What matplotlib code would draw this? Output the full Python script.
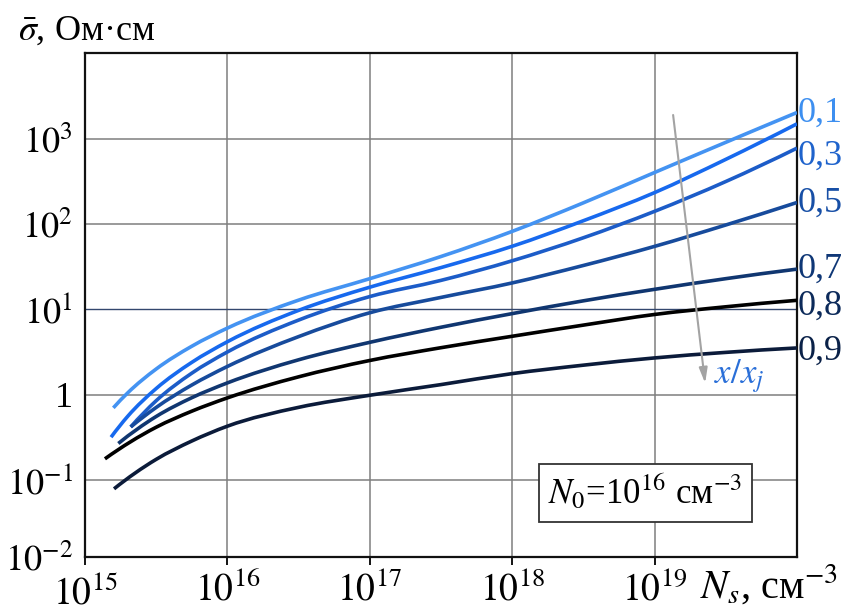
import numpy as np
import matplotlib
matplotlib.use("Agg")
import matplotlib.pyplot as plt
from matplotlib.path import Path
from matplotlib.patches import PathPatch

plt.rcParams["font.family"] = ["Liberation Serif", "DejaVu Serif"]
plt.rcParams["mathtext.fontset"] = "stix"

# Depth fractions x/xj and their curves: log10(Ns, cm^-3) vs log10(sigma, Ohm*cm)
depth_labels = ["0,1", "0,2", "0,3", "0,5", "0,7", "0,8", "0,9"]
show_label = [True, False, True, True, True, True, True]

lg_ns_01 = [15.199, 15.3, 15.5, 15.75, 16.0, 16.5, 17.0, 17.5, 18.0, 18.5, 19.0, 19.5, 20.0]
lg_sg_01 = [-0.156, 0.02, 0.30, 0.567, 0.78, 1.108, 1.36, 1.62, 1.915, 2.25, 2.606, 2.96, 3.31]

lg_ns_02 = [15.183, 15.3, 15.5, 15.75, 16.0, 16.5, 17.0, 17.5, 18.0, 18.5, 19.0, 19.5, 20.0]
lg_sg_02 = [-0.50, -0.255, 0.071, 0.378, 0.62, 0.988, 1.26, 1.49, 1.74, 2.04, 2.37, 2.76, 3.177]

lg_ns_03 = [15.321, 15.5, 15.75, 16.0, 16.5, 17.0, 17.5, 18.0, 18.5, 19.0, 19.5, 20.0]
lg_sg_03 = [-0.38, -0.072, 0.251, 0.50, 0.874, 1.15, 1.34, 1.57, 1.84, 2.15, 2.50, 2.892]

lg_ns_05 = [15.321, 15.5, 15.75, 16.0, 16.5, 17.0, 17.5, 18.0, 18.5, 19.0, 19.5, 20.0]
lg_sg_05 = [-0.38, -0.151, 0.112, 0.33, 0.68, 0.96, 1.14, 1.31, 1.515, 1.739, 1.99, 2.254]

lg_ns_07 = [15.234, 15.5, 15.75, 16.0, 16.5, 17.0, 17.5, 18.0, 18.5, 19.0, 19.5, 20.0]
lg_sg_07 = [-0.574, -0.257, -0.037, 0.137, 0.408, 0.613, 0.79, 0.95, 1.10, 1.235, 1.36, 1.472]

lg_ns_08 = [15.14, 15.5, 15.75, 16.0, 16.5, 17.0, 17.5, 18.0, 18.5, 19.0, 19.5, 20.0]
lg_sg_08 = [-0.754, -0.383, -0.195, -0.039, 0.208, 0.40, 0.55, 0.684, 0.815, 0.94, 1.03, 1.106]

lg_ns_09 = [15.204, 15.5, 15.75, 16.0, 16.5, 17.0, 17.5, 18.0, 18.5, 19.0, 19.5, 20.0]
lg_sg_09 = [-1.106, -0.76, -0.545, -0.371, -0.15, -0.008, 0.117, 0.246, 0.345, 0.43, 0.495, 0.547]

series_ns = [lg_ns_01, lg_ns_02, lg_ns_03, lg_ns_05, lg_ns_07, lg_ns_08, lg_ns_09]
series_sg = [lg_sg_01, lg_sg_02, lg_sg_03, lg_sg_05, lg_sg_07, lg_sg_08, lg_sg_09]

line_colors = ["#4493f2", "#1769ee", "#1c5cc8", "#174b9c", "#103670", "#000000", "#0b1b3a"]
label_colors = ["#3d8ff0", None, "#1f63cc", "#174fa6", "#0f3776", "#0c2a5a", "#0a2148"]
label_baselines = [122, None, 165, 212, 278, 315, 360]   # pixel rows of text baselines

x_ticks = [1e15, 1e16, 1e17, 1e18, 1e19]
x_ticklabels = [r"$10^{15}$", r"$10^{16}$", r"$10^{17}$", r"$10^{18}$", r"$10^{19}$"]
y_bottom = 10 ** -1.906
y_top = 10 ** 4.008
y_ticks = [y_bottom, 1e-1, 1, 1e1, 1e2, 1e3]
y_ticklabels = [r"$10^{-2}$", r"$10^{-1}$", "1", r"$10^{1}$", r"$10^{2}$", r"$10^{3}$"]


def hermite_path(lx, ly):
    """Smooth cubic (Hermite/Bezier) path through the points, built in log-log space."""
    lx = np.asarray(lx, float)
    ly = np.asarray(ly, float)
    n = len(lx)
    h = np.diff(lx)
    s = np.diff(ly) / h
    m = np.empty(n)
    # three-point derivative for uneven spacing
    m[1:-1] = (h[1:] * s[:-1] + h[:-1] * s[1:]) / (h[:-1] + h[1:])
    m[0] = 2 * s[0] - m[1]
    m[-1] = 2 * s[-1] - m[-2]
    verts = [(lx[0], ly[0])]
    codes = [Path.MOVETO]
    for i in range(n - 1):
        d = h[i] / 3
        verts += [(lx[i] + d, ly[i] + m[i] * d),
                  (lx[i + 1] - d, ly[i + 1] - m[i + 1] * d),
                  (lx[i + 1], ly[i + 1])]
        codes += [Path.CURVE4] * 3
    return Path(10 ** np.array(verts), codes)


W, H = 849, 613
fig = plt.figure(figsize=(W / 100, H / 100), dpi=100)
ax_l, ax_r, ax_t, ax_b = 85, 797, 53, 557
ax = fig.add_axes([ax_l / W, 1 - ax_b / H, (ax_r - ax_l) / W, (ax_b - ax_t) / H])
ax.set_xscale("log")
ax.set_yscale("log")
ax.set_xlim(1e15, 1e20)
ax.set_ylim(y_bottom, y_top)

# grid
for xv in [1e16, 1e17, 1e18, 1e19]:
    ax.axvline(xv, color="#7f7f7f", lw=1.1, zorder=1)
for yv in [1e-1, 1, 1e2, 1e3]:
    ax.axhline(yv, color="#7f7f7f", lw=1.1, zorder=1)
ax.axhline(1e1, color="#33476e", lw=1.0, zorder=1)

for ns, sg, c in zip(series_ns, series_sg, line_colors):
    ax.add_patch(PathPatch(hermite_path(ns, sg), fill=False, edgecolor=c, lw=2.6,
                           capstyle="butt", zorder=3))

ax.set_xticks(x_ticks)
ax.set_xticklabels(x_ticklabels, fontsize=27)
ax.set_yticks(y_ticks)
ax.set_yticklabels(y_ticklabels, fontsize=26)
ax.minorticks_off()
ax.tick_params(axis="y", length=0, pad=9)
ax.tick_params(axis="x", length=6, width=1.3, pad=5)
for lbl in ax.get_xticklabels()[:1]:
    lbl.set_y(-0.006)
for sp in ax.spines.values():
    sp.set_linewidth(1.6)
    sp.set_color("#111111")

# curve labels on the right
for text, col, base, show in zip(depth_labels, label_colors, label_baselines, show_label):
    if show:
        fig.text(798 / W, 1 - base / H, text, color=col, fontsize=26,
                 ha="left", va="baseline")

# arrow of increasing depth
ax.annotate("", xy=(0.871, 0.345), xytext=(0.826, 0.877), xycoords="axes fraction",
            arrowprops=dict(arrowstyle="-|>,head_length=0.9,head_width=0.25",
                            color="#a3a3a3", lw=1.5, shrinkA=0, shrinkB=0), zorder=4)
fig.text(714 / W, 1 - 383 / H, r"$x/x_j$", color="#2a6fd8", fontsize=25,
         ha="left", va="baseline")

# concentration note
ax.text(0.787, 0.127, r"$N_0$=10$^{16}$ см$^{-3}$", transform=ax.transAxes,
        fontsize=25, ha="center", va="center", zorder=5,
        bbox=dict(boxstyle="square,pad=0.28", fc="white", ec="#333333", lw=1.3))

# axis titles
fig.text(18 / W, 1 - 40 / H, r"$\bar{\sigma}$, Ом·см", fontsize=26,
         ha="left", va="baseline")
fig.text(700 / W, 1 - 598 / H, r"$N_s$, см$^{-3}$", fontsize=29,
         ha="left", va="baseline")

fig.savefig("out.png", dpi=100)
